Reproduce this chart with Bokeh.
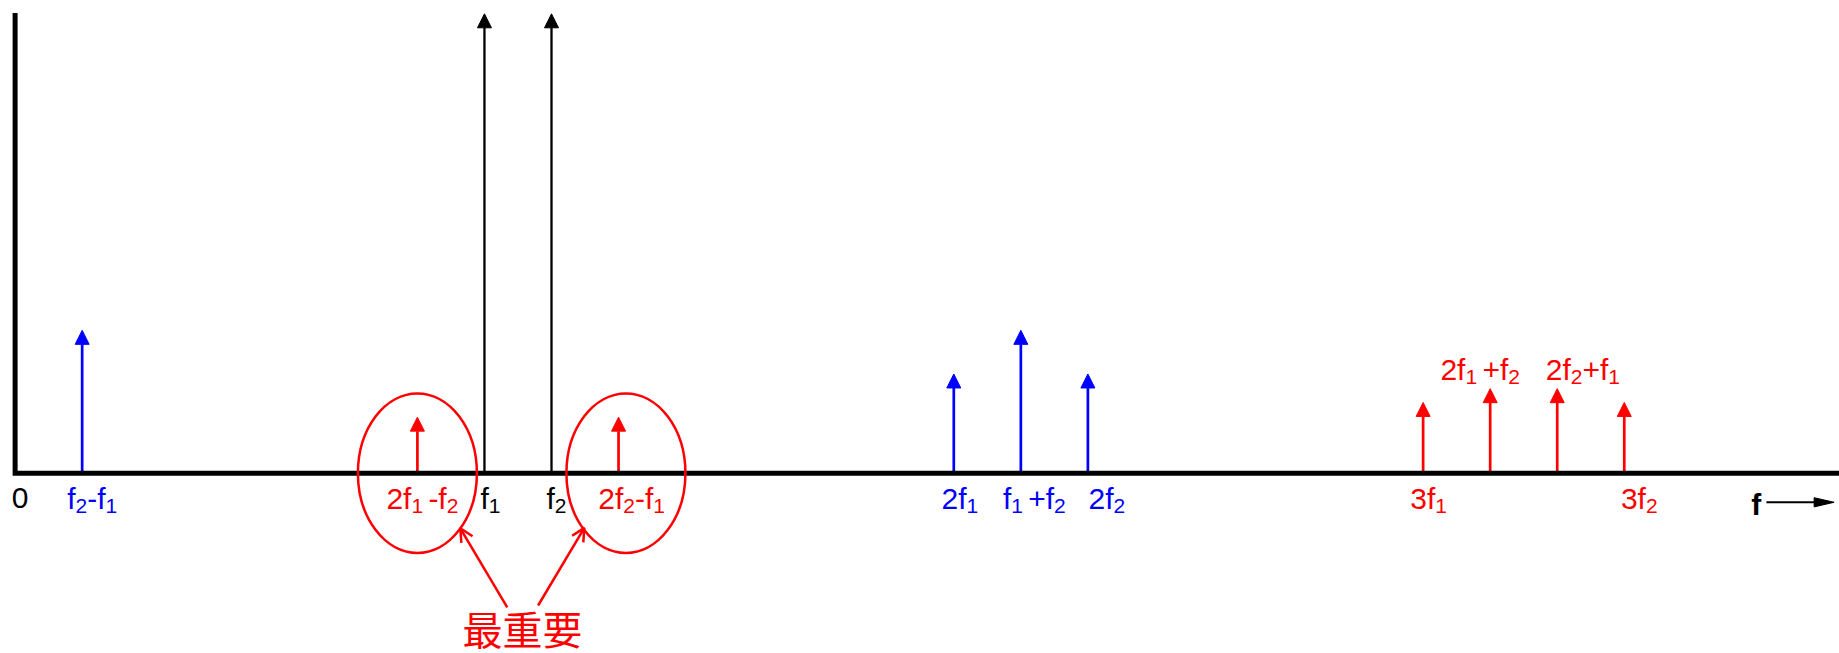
from bokeh.plotting import figure
from bokeh.models import Range1d, Arrow, NormalHead, OpenHead, ColumnDataSource
from bokeh.core.properties import value
from bokeh.embed import file_html
from bokeh.resources import INLINE

# Spectral lines of a two-tone test: frequency in units where f1 = 7, f2 = 8,
# amplitude relative to the two fundamentals (= 100).
line_names = ["f2-f1", "2f1-f2", "f1", "f2", "2f2-f1", "2f1", "f1+f2", "2f2",
              "3f1", "2f1+f2", "2f2+f1", "3f2"]
line_freqs = [1, 6, 7, 8, 9, 14, 15, 16, 21, 22, 23, 24]
line_amps = [31.1, 12.2, 100, 100, 12.2, 21.6, 31.1, 21.6, 15.4, 18.4, 18.4, 15.4]
line_groups = ["second", "third", "fundamental", "fundamental", "third", "second",
               "second", "second", "third", "third", "third", "third"]

# Frequency labels under the axis ("_x" = subscript, " " = small gap)
below_labels = ["0", "f_2-f_1", "2f_1 -f_2", "f_1", "f_2", "2f_2-f_1", "2f_1",
                "f_1 +f_2", "2f_2", "3f_1", "3f_2"]
below_freqs = [0, 1, 6, 7, 8, 9, 14, 15, 16, 21, 24]
below_groups = ["fundamental", "second", "third", "fundamental", "fundamental", "third",
                "second", "second", "second", "third", "third"]
# Labels written above their lines
above_labels = ["2f_1 +f_2", "2f_2+f_1"]
above_freqs = [22, 23]

# Highlighted third-order products near the fundamentals
highlight_freqs = [6, 9]
callout_text = "最重要"

# ---- layout / style ----
W, H = 1839, 653
X0, X1 = -0.218, 27.21
Y0, Y1 = -39.25, 102.9
PXX = W / (X1 - X0)
PXY = H / (Y1 - Y0)

COLORS = {"fundamental": "#000000", "second": "#0000ff", "third": "#ff0000"}
MAIN, SUB = 30, 21
SUB_DROP = 7.5          # px, subscript baseline shift
BELOW_PX = 25.0         # px, label anchor below the axis
ABOVE_GAP = 19.5        # px, label anchor above an arrow tip
# horizontal nudges (px) of each label's centre from its line
below_nudge = [5, 10, 5, 6, 5, 13, 6, 13.5, 19, 5.5, 15]
above_nudge = [-10, 25.7]

p = figure(width=W, height=H, x_range=Range1d(X0, X1), y_range=Range1d(Y0, Y1),
           output_backend="svg", toolbar_location=None,
           x_axis_type=None, y_axis_type=None, min_border=0,
           outline_line_color=None, background_fill_color="white",
           border_fill_color="white")

# spectral lines as arrows
for grp, col in COLORS.items():
    idx = [i for i, g in enumerate(line_groups) if g == grp]
    src = ColumnDataSource(dict(
        x0=[line_freqs[i] for i in idx], y0=[0] * len(idx),
        x1=[line_freqs[i] for i in idx], y1=[line_amps[i] for i in idx]))
    lw = 2.3 if grp == "fundamental" else 2.7
    p.add_layout(Arrow(x_start="x0", y_start="y0", x_end="x1", y_end="y1", source=src,
                       line_color=col, line_width=lw, level="underlay",
                       end=NormalHead(size=14, fill_color=col, line_color=col,
                                      line_width=1)))

# amplitude axis and frequency axis
p.line(x=[0, 0, X1], y=[100.2, 0, 0], line_color="black", line_width=5,
       line_join="miter")

# frequency axis marker: bold f followed by an arrow
fy = -29.1 / PXY
fx0, fx1 = 26.12, 27.13
head_len, head_half = 20 / PXX, 4.6 / PXY
p.segment(x0=[fx0], y0=[fy], x1=[fx1 - head_len * 0.8], y1=[fy], line_color="black",
          line_width=2)
p.patch(x=[fx1, fx1 - head_len, fx1 - head_len], y=[fy, fy + head_half, fy - head_half],
        fill_color="black", line_color="black", line_width=1)
p.text(x=[25.97], y=[-31.5 / PXY], text=["f"], text_font=value("Liberation Sans"),
       text_font_size=value("30px"), text_font_style="bold", text_color="black",
       text_align="center", text_baseline="alphabetic")

# labels with subscripts
ADV = dict.fromkeys("0123456789", 0.556)
ADV.update({"f": 0.278, "-": 0.333, "+": 0.584, " ": 0.25})


def runs(markup):
    out = []
    i = 0
    while i < len(markup):
        if markup[i] == "_":
            ch, sub = markup[i + 1], True
            i += 2
        elif markup[i] == " ":
            ch, sub = " ", True
            i += 1
        else:
            ch, sub = markup[i], False
            i += 1
        if out and out[-1][1] == sub:
            out[-1][0] += ch
        else:
            out.append([ch, sub])
    return out


def run_width(text, sub):
    return sum(ADV[c] for c in text) * (SUB if sub else MAIN)


cols = {True: dict(x=[], y=[], text=[], dx=[], color=[]),
        False: dict(x=[], y=[], text=[], dx=[], color=[])}


def add_label(markup, fx, base_y, nudge, color):
    rr = runs(markup)
    total = sum(run_width(t, s) for t, s in rr)
    cursor = -total / 2 + nudge
    for t, s in rr:
        if t.strip():
            c = cols[s]
            c["x"].append(fx)
            c["y"].append(base_y - (SUB_DROP / PXY if s else 0))
            c["text"].append(t.strip() if s else t)
            c["dx"].append(cursor + (0 if not s or t[0] != " " else ADV[" "] * SUB))
            c["color"].append(color)
        cursor += run_width(t, s)


for lab, fx, grp, nd in zip(below_labels, below_freqs, below_groups, below_nudge):
    add_label(lab, fx, -BELOW_PX / PXY, nd, COLORS[grp])
for lab, fx, nd in zip(above_labels, above_freqs, above_nudge):
    amp = line_amps[line_freqs.index(fx)]
    add_label(lab, fx, amp + ABOVE_GAP / PXY, nd, COLORS["third"])

for s, size in ((False, MAIN), (True, SUB)):
    p.text(x="x", y="y", text="text", x_offset="dx", text_color="color",
           source=ColumnDataSource(cols[s]), text_font=value("Liberation Sans"),
           text_font_size=value(f"{size}px"), text_align="left",
           text_baseline="alphabetic")

# highlight ellipses around the 2f1-f2 and 2f2-f1 products
p.ellipse(x=[highlight_freqs[0], highlight_freqs[1] + 0.11], y=[0, 0],
          width=119 / PXX, height=159.5 / PXY, fill_color=None,
          line_color="#ff0000", line_width=2.5)

# callout arrows and text
call_src = ColumnDataSource(dict(x0=[7.34, 7.80], y0=[-29.2, -28.8],
                                 x1=[6.64, 8.49], y1=[-12.0, -11.9]))
p.add_layout(Arrow(x_start="x0", y_start="y0", x_end="x1", y_end="y1", source=call_src,
                   line_color="#ff0000", line_width=2.5,
                   end=OpenHead(size=13, line_color="#ff0000", line_width=2.5)))
p.text(x=[7.568], y=[-33.8], text=[callout_text], text_font=value("Noto Sans CJK SC"),
       text_font_size=value("40px"), text_color="#ff0000", text_align="center",
       text_baseline="middle")

open("out.html", "w").write(file_html(p, INLINE))
